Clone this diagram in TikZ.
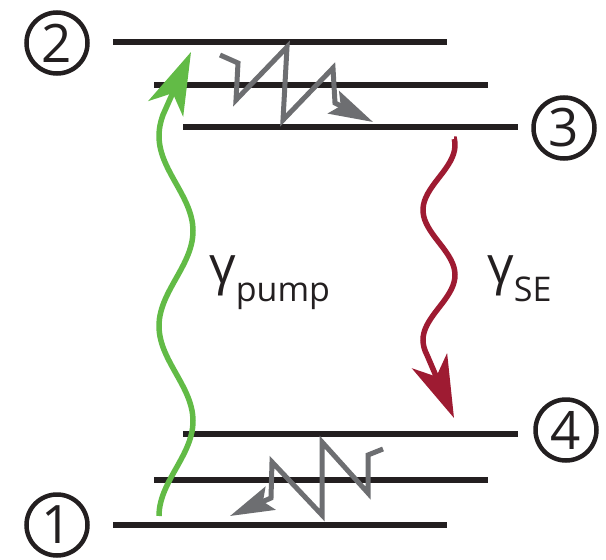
\documentclass[tikz,border=0pt]{standalone}
\usepackage{fontspec}
\setmainfont{Open Sans}
\usetikzlibrary{arrows.meta,positioning,calc}
\definecolor{ink}{HTML}{231F20}
\definecolor{pumpgreen}{HTML}{62BB46}
\definecolor{sered}{HTML}{9E1B32}
\definecolor{relaxgray}{HTML}{6D6E71}
\tikzset{
  lvl/.style={draw=ink,line width=6pt},
  circnum/.style={circle,draw=ink,line width=4.5pt,minimum size=61pt,inner sep=0pt,text=ink,font=\fontsize{53}{53}\selectfont},
  relax/.style={draw=relaxgray,line width=5pt,-{Stealth[length=44pt,width=25pt,inset=8pt]}},
  photon/.style={line width=5.5pt,-{Stealth[length=62pt,width=38pt,inset=17pt]}},
  ratelabel/.style={anchor=base west,inner sep=0pt,text=ink}
}
\newcommand{\rategamma}[1]{{\fontsize{52}{52}\selectfont γ}\raisebox{-18pt}{\fontsize{34}{34}\selectfont #1}}

\begin{document}
\begin{tikzpicture}[x=1pt,y=-1pt]
  \useasboundingbox (0,0) rectangle (606,560);
  % energy levels
  \draw[lvl] (113,42) coordinate (l2w) -- (447,42) coordinate (l2e);
  \draw[lvl] (154,85) coordinate (l2bw) -- (488,85) coordinate (l2be);
  \draw[lvl] (183,127) coordinate (l3w) -- (518,127) coordinate (l3e);
  \draw[lvl] (183,434) coordinate (l4w) -- (518,434) coordinate (l4e);
  \draw[lvl] (154,480) coordinate (l1bw) -- (488,480) coordinate (l1be);
  \draw[lvl] (113,525) coordinate (l1w) -- (447,525) coordinate (l1e);
  % circled state numbers
  \node[circnum] (n2) at (57,43) {2};
  \node[circnum] (n3) at (564,128) {3};
  \node[circnum] (n4) at (566,430) {4};
  \node[circnum] (n1) at (57,525) {1};
  % pump and stimulated emission
  \coordinate (pumpS) at (159,516);
  \coordinate (pumpE) at (191,52);
  \draw[photon,pumpgreen] (pumpS) -- plot[domain=516:115,samples=60,smooth] ({176-17*cos(1.8947*(516-\x))},\x) -- (pumpE);
  \coordinate (seS) at (454,139);
  \coordinate (seE) at (454,418);
  \draw[photon,sered] (seS) -- plot[domain=139:355,samples=60,smooth] ({439+16*cos(2.7692*(\x-145))},\x) -- (seE);
  \node[ratelabel] (gpump) at (209,283) {\rategamma{pump}};
  \node[ratelabel] (gse) at (487,283) {\rategamma{SE}};
  % non-radiative relaxation
  \coordinate (relTopS) at (220,55);
  \coordinate (relTopE) at (373,122);
  \draw[relax] (relTopS) -- (238,63) -- (236,100) -- (287,47) -- (283,120) -- (333,68) -- (335,103) -- (relTopE);
  \coordinate (relBotS) at (383,449);
  \coordinate (relBotE) at (230,516);
  \draw[relax] (relBotS) -- (368,455) -- (368,493) -- (322,442) -- (322,515) -- (272,462) -- (271,498) -- (relBotE);
\end{tikzpicture}
\end{document}
